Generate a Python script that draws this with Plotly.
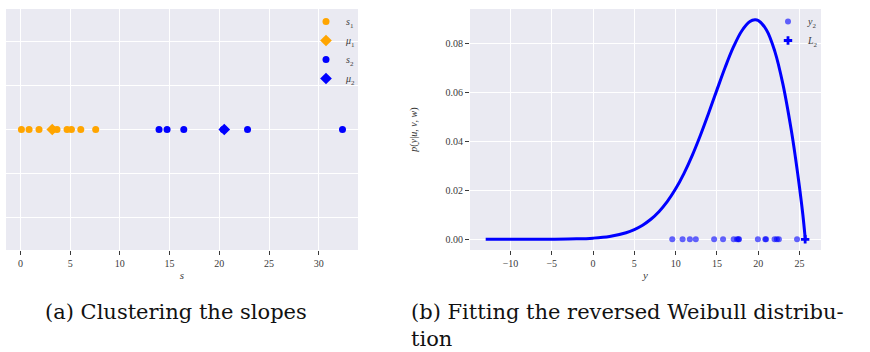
import plotly.graph_objects as go

# ---------------- data ----------------
# (a) clustering the slopes
s1_vals = [0.1, 0.87, 1.87, 3.25, 3.68, 4.69, 5.13, 6.07, 7.57]
mu1_val = [3.2]
s2_vals = [13.94, 14.75, 16.43, 20.4, 22.84, 32.39]
mu2_val = [20.5]

# (b) reversed Weibull fit (curve values)
curve_y = [-13.0, -10.0, -7.5, -5.0, -2.0, 0.0, 2.0, 4.0, 5.0, 6.0, 7.0, 8.0, 9.0,
           10.0, 11.0, 12.0, 13.0, 14.0, 15.0, 16.0, 17.0, 18.0, 19.0, 19.6, 20.0,
           21.0, 22.0, 23.0, 24.0, 24.5, 25.0, 25.4, 25.7]
curve_p = [0.0, 0.0, 0.0, 0.00003, 0.00017, 0.00046, 0.00116, 0.00268, 0.00397,
           0.00575, 0.00816, 0.01135, 0.01544, 0.02057, 0.0268, 0.03414, 0.04245,
           0.05153, 0.06092, 0.07014, 0.07841, 0.08494, 0.0888, 0.0895, 0.0892,
           0.08534, 0.07673, 0.06306, 0.04455, 0.03346, 0.02109, 0.0101, 0.0]
y2_vals = [9.59, 10.84, 11.72, 12.44, 14.66, 15.74, 17.03, 17.43, 17.67, 17.6,
           19.96, 20.85, 20.95, 21.98, 22.26, 22.5, 24.7]
L2_val = [25.68]

x_ticks_a = [0, 5, 10, 15, 20, 25, 30]
x_ticks_b = [-10, -5, 0, 5, 10, 15, 20, 25]
y_ticks_b = [0.0, 0.02, 0.04, 0.06, 0.08]

# ---------------- styling ----------------
ORANGE = "#FFA500"
BLUE = "#0000FF"
BG = "#EAEAF2"
SERIF = "Liberation Serif, DejaVu Serif, serif"
CAP_SERIF = "DejaVu Serif, Liberation Serif, serif"
TICKC = "#3a3a3a"

fig = go.Figure()

fig.add_trace(go.Scatter(x=s1_vals, y=[0] * len(s1_vals), mode="markers",
                         marker=dict(color=ORANGE, size=7), name="<i>s</i><sub>1</sub>",
                         xaxis="x", yaxis="y", legend="legend"))
fig.add_trace(go.Scatter(x=mu1_val, y=[0], mode="markers",
                         marker=dict(color=ORANGE, size=9, symbol="diamond"),
                         name="<i>μ</i><sub>1</sub>", xaxis="x", yaxis="y", legend="legend"))
fig.add_trace(go.Scatter(x=s2_vals, y=[0] * len(s2_vals), mode="markers",
                         marker=dict(color=BLUE, size=7), name="<i>s</i><sub>2</sub>",
                         xaxis="x", yaxis="y", legend="legend"))
fig.add_trace(go.Scatter(x=mu2_val, y=[0], mode="markers",
                         marker=dict(color=BLUE, size=9, symbol="diamond"),
                         name="<i>μ</i><sub>2</sub>", xaxis="x", yaxis="y", legend="legend"))

fig.add_trace(go.Scatter(x=curve_y, y=curve_p, mode="lines",
                         line=dict(color=BLUE, width=3, shape="spline", smoothing=1.0),
                         showlegend=False, xaxis="x2", yaxis="y2"))
fig.add_trace(go.Scatter(x=y2_vals, y=[0] * len(y2_vals), mode="markers",
                         marker=dict(color="rgba(0,0,255,0.6)", size=6),
                         name="<i>y</i><sub>2</sub>", xaxis="x2", yaxis="y2", legend="legend2"))
fig.add_trace(go.Scatter(x=L2_val, y=[0], mode="markers",
                         marker=dict(color=BLUE, size=7, symbol="cross"),
                         name="<i>L</i><sub>2</sub>", xaxis="x2", yaxis="y2", legend="legend2"))

W, H = 870, 352
def px_x(p):
    return p / W
def px_y(p):
    return 1 - p / H

axis_common = dict(showgrid=True, gridcolor="white", gridwidth=1, zeroline=False,
                   showline=False, ticklen=4, tickwidth=1,
                   tickcolor=TICKC, tickfont=dict(family=SERIF, size=10, color=TICKC))

fig.update_layout(
    width=W, height=H, margin=dict(l=0, r=0, t=0, b=0),
    paper_bgcolor="white", plot_bgcolor=BG,
    xaxis=dict(domain=[px_x(6), px_x(358)], range=[-1.45, 33.95], tickvals=x_ticks_a,
               ticks="outside",
               title=dict(text="<i>s</i>", font=dict(family=SERIF, size=11, color=TICKC), standoff=3),
               anchor="y", **axis_common),
    yaxis=dict(domain=[px_y(250), px_y(9)], range=[-0.055, 0.055], tick0=0, dtick=0.02,
               showticklabels=False, ticks="", anchor="x", **axis_common),
    xaxis2=dict(domain=[px_x(470), px_x(821)], range=[-14.9, 27.6], tickvals=x_ticks_b,
                ticks="outside",
                title=dict(text="<i>y</i>", font=dict(family=SERIF, size=11, color=TICKC), standoff=3),
                anchor="y2", **axis_common),
    yaxis2=dict(domain=[px_y(250), px_y(9)], range=[-0.00437, 0.0939], tickvals=y_ticks_b,
                tickformat=".2f", anchor="x2", ticks="outside",
                title=dict(text="<i>p</i>(<i>y</i>|<i>u</i>, <i>v</i>, <i>w</i>)",
                           font=dict(family=SERIF, size=10, color=TICKC), standoff=26),
                **axis_common),
    legend=dict(x=px_x(362), xanchor="right", y=px_y(7), yanchor="top",
                bgcolor="rgba(0,0,0,0)", font=dict(family=SERIF, size=10, color=TICKC),
                itemwidth=30, tracegroupgap=0),
    legend2=dict(x=px_x(824), xanchor="right", y=px_y(7), yanchor="top",
                 bgcolor="rgba(0,0,0,0)", font=dict(family=SERIF, size=10, color=TICKC),
                 itemwidth=30, tracegroupgap=0),
    showlegend=True,
)

cap_font = dict(family=CAP_SERIF, size=21, color="#111111")
fig.add_annotation(text="(a) Clustering the slopes", xref="paper", yref="paper",
                   x=px_x(43), y=px_y(312), xanchor="left", yanchor="middle",
                   showarrow=False, font=cap_font)
fig.add_annotation(text="(b) Fitting the reversed Weibull distribu-", xref="paper", yref="paper",
                   x=px_x(409), y=px_y(312), xanchor="left", yanchor="middle",
                   showarrow=False, font=cap_font)
fig.add_annotation(text="tion", xref="paper", yref="paper",
                   x=px_x(409), y=px_y(339), xanchor="left", yanchor="middle",
                   showarrow=False, font=cap_font)

fig.write_html("out.html")
